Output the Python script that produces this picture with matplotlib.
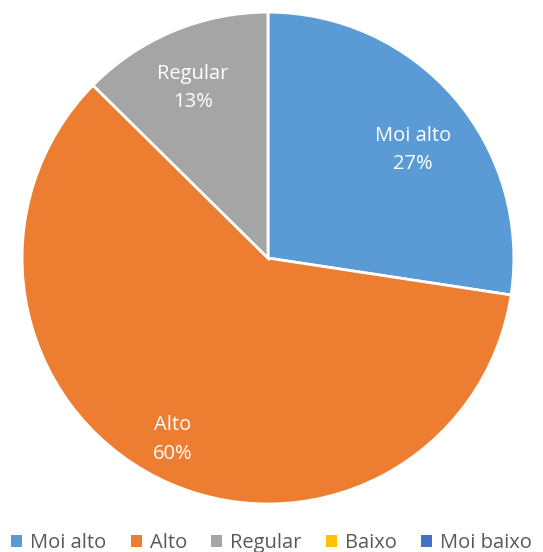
import numpy as np
import matplotlib.pyplot as plt
from matplotlib.patches import Patch

plt.rcParams['font.family'] = ['Open Sans', 'DejaVu Sans']

categories = ['Moi alto', 'Alto', 'Regular', 'Baixo', 'Moi baixo']
values = [27.4, 60.0, 12.6, 0, 0]
colors = ['#5B9BD5', '#ED7D31', '#A5A5A5', '#FFC000', '#4472C4']
# label placement: (distance from centre, angle shift from the slice middle in degrees)
label_pos = {'Moi alto': (0.745, -3.0), 'Alto': (0.82, -1.6), 'Regular': (0.77, 0.6)}

fig = plt.figure(figsize=(5.43, 5.52), dpi=100)
ax = fig.add_axes([0.0405, 0.087, 0.906, 0.891])

# draw only the slices with a value
shown = [(c, v, col) for c, v, col in zip(categories, values, colors) if v > 0]
wedges, _ = ax.pie([s[1] for s in shown], colors=[s[2] for s in shown],
                   startangle=90, counterclock=False, radius=1,
                   wedgeprops=dict(edgecolor='white', linewidth=2))

total = sum(values)
for w, (c, v, col) in zip(wedges, shown):
    d, shift = label_pos[c]
    ang = np.deg2rad((w.theta1 + w.theta2) / 2 + shift)
    ax.text(d * np.cos(ang), d * np.sin(ang) - 0.015, f'{c}\n{round(100 * v / total)}%',
            ha='center', va='center', color='white', fontsize=14.5, linespacing=1.55)

ax.set_xlim(-1, 1)
ax.set_ylim(-1, 1)
ax.set_aspect('equal')
ax.axis('off')

handles = [Patch(facecolor=col, label=c) for c, col in zip(categories, colors)]
fig.legend(handles=handles, loc='lower center', bbox_to_anchor=(0.5, -0.035), ncol=5,
           frameon=False, fontsize=14.5, handlelength=0.55, handleheight=0.55,
           handletextpad=0.4, columnspacing=1.2, labelcolor='#595959')

fig.savefig('out.png', dpi=100)
